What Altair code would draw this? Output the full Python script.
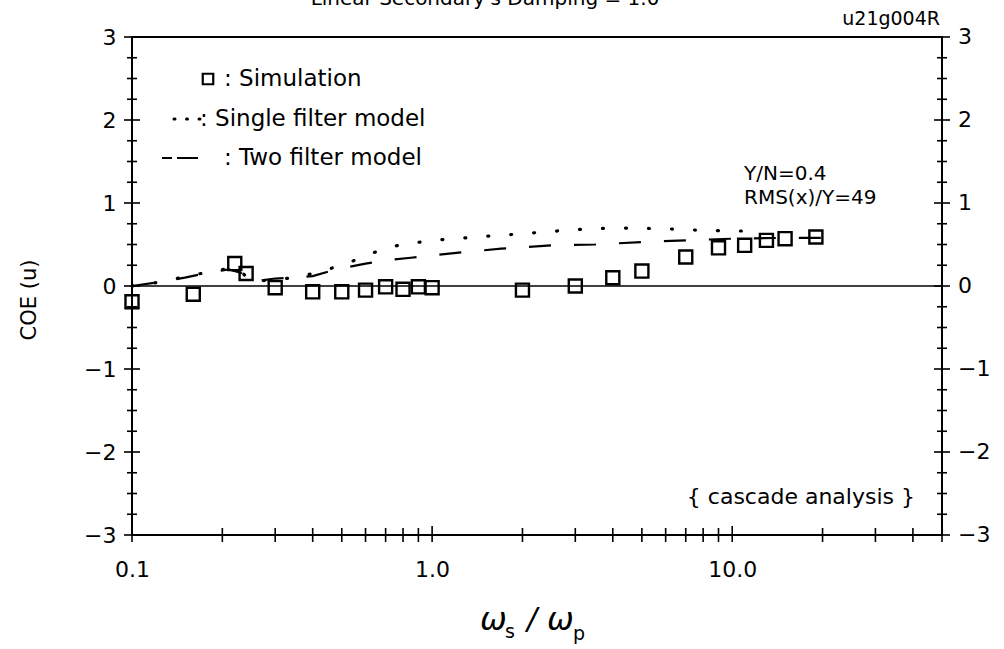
import altair as alt
import pandas as pd

# Simulation results (open squares)
sim_x = [0.1, 0.16, 0.22, 0.24, 0.3, 0.4, 0.5, 0.6, 0.7, 0.8, 0.9, 1.0,
         2.0, 3.0, 4.0, 5.0, 7.0, 9.0, 11.0, 13.0, 15.0, 19.0]
sim_y = [-0.19, -0.10, 0.27, 0.15, -0.02, -0.07, -0.07, -0.05, -0.01, -0.04, -0.01, -0.02,
         -0.05, 0.0, 0.10, 0.18, 0.35, 0.46, 0.49, 0.55, 0.57, 0.59]

# Single filter model (dotted curve)
single_x = [0.1, 0.12, 0.15, 0.18, 0.21, 0.23, 0.25, 0.3, 0.35, 0.4, 0.5, 0.6,
            0.7, 0.8, 1.0, 1.4, 2.0, 3.0, 4.0, 6.0, 8.0, 12.0]
single_y = [0.0, 0.04, 0.11, 0.17, 0.21, 0.18, 0.05, 0.08, 0.10, 0.15, 0.25, 0.36,
            0.46, 0.50, 0.55, 0.59, 0.63, 0.68, 0.70, 0.69, 0.67, 0.66]

# Two filter model (dashed curve)
two_x = [0.1, 0.12, 0.15, 0.18, 0.21, 0.23, 0.25, 0.3, 0.35, 0.4, 0.48, 0.6,
         0.7, 0.85, 1.0, 1.3, 1.7, 2.5, 3.5, 5.0, 7.0, 10.0, 15.0, 23.0]
two_y = [0.0, 0.04, 0.10, 0.16, 0.20, 0.16, 0.05, 0.09, 0.10, 0.12, 0.20, 0.27,
         0.31, 0.34, 0.37, 0.41, 0.45, 0.49, 0.50, 0.53, 0.55, 0.57, 0.58, 0.58]

# Axis ticks and labels
x_major = [0.1, 1.0, 10.0]
x_minor = [0.2, 0.3, 0.4, 0.5, 0.6, 0.7, 0.8, 0.9,
           2, 3, 4, 5, 6, 7, 8, 9, 20, 30, 40, 50]
y_major = [-3, -2, -1, 0, 1, 2, 3]
y_minor = [v / 4 for v in range(-12, 13) if v % 4 != 0]

W, H = 810, 498
FONT = "DejaVu Sans"

x_scale = alt.Scale(type="log", domain=[0.1, 50], nice=False)
y_scale = alt.Scale(domain=[-3, 3], nice=False)

x_axis = alt.Axis(values=x_major, format=".1f", labelFontSize=22, labelFont=FONT,
                  labelColor="black", ticks=False, domain=False, grid=False,
                  labelFlush=False, labelPadding=24, title=None)
y_axis = alt.Axis(values=y_major, format="d", labelFontSize=22, labelFont=FONT,
                  labelColor="black", ticks=False, domain=False, grid=False,
                  labelFlush=False, labelPadding=16, title=None)


def xq(field):
    return alt.X(f"{field}:Q", scale=x_scale, axis=x_axis)


def yq(field):
    return alt.Y(f"{field}:Q", scale=y_scale, axis=y_axis)


sim = pd.DataFrame({"x": sim_x, "y": sim_y})
single = pd.DataFrame({"x": single_x, "y": single_y})
two = pd.DataFrame({"x": two_x, "y": two_y})

zero_line = alt.Chart(pd.DataFrame({"v": [0]})).mark_rule(
    color="black", strokeWidth=1.4
).encode(y=yq("v"), x=alt.value(0), x2=alt.value(W))

single_line = alt.Chart(single).mark_line(
    color="black", strokeWidth=3.2, strokeDash=[1, 22], strokeCap="round"
).encode(x=xq("x"), y=yq("y"))

two_line = alt.Chart(two).mark_line(
    color="black", strokeWidth=2.2, strokeDash=[22, 23]
).encode(x=xq("x"), y=yq("y"))

squares = alt.Chart(sim).mark_point(
    shape="square", filled=False, color="black", size=170, strokeWidth=2.4, opacity=1
).encode(x=xq("x"), y=yq("y"))

# crossing tick marks on the frame
RULE = dict(color="black", strokeWidth=1.6)
xt_major = alt.Chart(pd.DataFrame({"v": x_major})).mark_rule(**RULE).encode(
    x=xq("v"), y=alt.value(H - 9), y2=alt.value(H + 7))
xt_minor = alt.Chart(pd.DataFrame({"v": x_minor})).mark_rule(**RULE).encode(
    x=xq("v"), y=alt.value(H - 7), y2=alt.value(H + 7))
yl_major = alt.Chart(pd.DataFrame({"v": y_major})).mark_rule(**RULE).encode(
    y=yq("v"), x=alt.value(-8), x2=alt.value(8))
yl_minor = alt.Chart(pd.DataFrame({"v": y_minor})).mark_rule(**RULE).encode(
    y=yq("v"), x=alt.value(-5), x2=alt.value(5))
yr_major = alt.Chart(pd.DataFrame({"v": y_major})).mark_rule(**RULE).encode(
    y=yq("v"), x=alt.value(W - 8), x2=alt.value(W + 8))
yr_minor = alt.Chart(pd.DataFrame({"v": y_minor})).mark_rule(**RULE).encode(
    y=yq("v"), x=alt.value(W - 5), x2=alt.value(W + 5))

# right-hand labels
right_labels = alt.Chart(pd.DataFrame({"v": y_major})).mark_text(
    align="left", baseline="middle", fontSize=22, font=FONT, color="black"
).encode(y=yq("v"), x=alt.value(W + 16), text=alt.Text("v:Q", format="d"))

one = pd.DataFrame({"a": [0]})


def label(text, x, y, size=20, align="left", baseline="middle", **kw):
    return alt.Chart(one).mark_text(
        align=align, baseline=baseline, fontSize=size, font=FONT, color="black", **kw
    ).encode(x=alt.value(x), y=alt.value(y), text=alt.value(text))


# legend
leg_square = alt.Chart(one).mark_point(
    shape="square", filled=False, color="black", size=110, strokeWidth=2.2, opacity=1
).encode(x=alt.value(76), y=alt.value(42))
leg_dots = alt.Chart(one).mark_rule(
    color="black", strokeWidth=3, strokeDash=[1, 11.5], strokeCap="round"
).encode(x=alt.value(42), x2=alt.value(68), y=alt.value(82))
leg_dash1 = alt.Chart(one).mark_rule(color="black", strokeWidth=2).encode(
    x=alt.value(30), x2=alt.value(40), y=alt.value(121))
leg_dash2 = alt.Chart(one).mark_rule(color="black", strokeWidth=2).encode(
    x=alt.value(45), x2=alt.value(66), y=alt.value(121))

texts = [
    label(": Simulation", 92, 42, 23),
    label(": Single filter model", 68, 82, 23),
    label(": Two filter model", 92, 121, 23),
    label("Y/N=0.4", 612, 137, 20),
    label("RMS(x)/Y=49", 612, 161, 20),
    label("{ cascade analysis }", 783, 460, 22, align="right"),
    label("u21g004R", 808, -12, 19, align="right", baseline="alphabetic"),
    label("Linear Secondary's Damping = 1.0", 353, -32, 20, align="center", baseline="alphabetic"),
    label("COE (u)", -102, 263, 21, align="center", angle=270),
    # x-axis title: omega_s / omega_p
    label("ω", 348, 583, 32, fontStyle="italic"),
    label("s", 373, 595, 19),
    label("/", 395, 583, 30, fontStyle="italic"),
    label("ω", 415, 583, 32, fontStyle="italic"),
    label("p", 441, 597, 19),
]

chart = alt.layer(
    zero_line, two_line, single_line, squares,
    xt_major, xt_minor, yl_major, yl_minor, yr_major, yr_minor,
    right_labels, leg_square, leg_dots, leg_dash1, leg_dash2, *texts
).properties(
    width=W, height=H,
    autosize=alt.AutoSizeParams(type="none"),
    padding={"left": 132, "top": 37, "right": 1004 - 132 - W, "bottom": 649 - 37 - H},
    background="white",
).configure_view(stroke="black", strokeWidth=2)

chart.save("out.html", embed_options={"renderer": "svg", "actions": False})
